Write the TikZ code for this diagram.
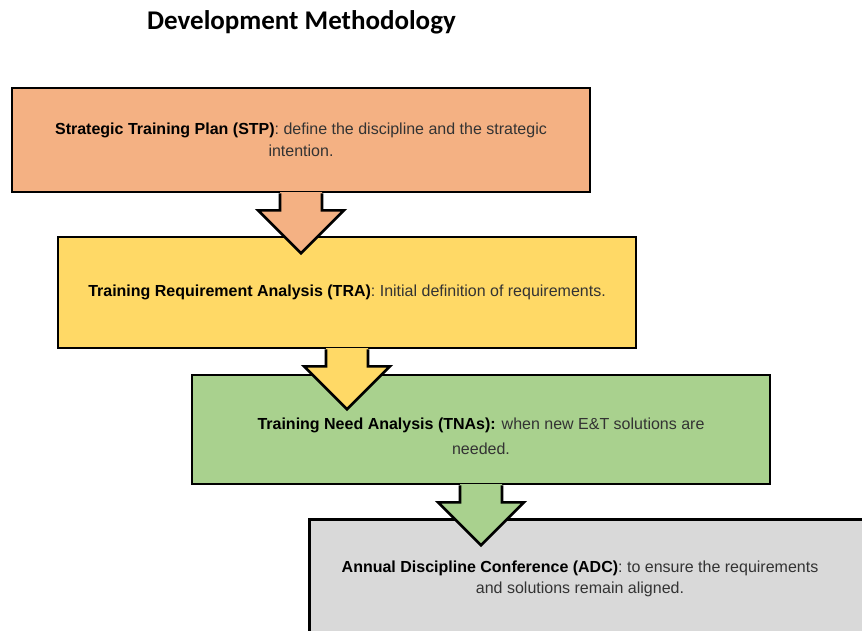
\documentclass[tikz,border=0pt]{standalone}
\usepackage{fontspec}
\setmainfont{Liberation Sans}
\newfontfamily\titlefont{Carlito}
\usetikzlibrary{positioning}
\usetikzlibrary{calc}

\definecolor{stpfill}{HTML}{F4B183}
\definecolor{trafill}{HTML}{FFD966}
\definecolor{tnafill}{HTML}{A9D18E}
\definecolor{adcfill}{HTML}{D9D9D9}
\definecolor{bodytext}{HTML}{333333}

% block arrow hanging below a stage box
\newcommand{\stagearrow}[2]{%
  \fill[#2] ($(#1.south)+(-21,1.3)$) -- ($(#1.south)+(-21,-17)$) -- ($(#1.south)+(-43,-17)$)
    -- ($(#1.south)+(0,-60)$) -- ($(#1.south)+(43,-17)$) -- ($(#1.south)+(21,-17)$)
    -- ($(#1.south)+(21,1.3)$) -- cycle;
  \draw[arrowline] ($(#1.south)+(-21,0)$) -- ($(#1.south)+(-21,-17)$) -- ($(#1.south)+(-43,-17)$)
    -- ($(#1.south)+(0,-60)$) -- ($(#1.south)+(43,-17)$) -- ($(#1.south)+(21,-17)$)
    -- ($(#1.south)+(21,0)$);
}

\begin{document}
\begin{tikzpicture}
    [x=1pt, y=1pt,
      every node/.style={font=\fontsize{16}{21.5}\selectfont, text=bodytext},
      stage/.style={draw, line width=2.6pt, rectangle, minimum width=578, align=center},
      arrowline/.style={line width=2.6pt, line join=miter},
     ]
    \useasboundingbox (0,0) rectangle (862,-630);
    \clip (0,0) rectangle (862,-630);

    \node (title) [anchor=base, font=\titlefont\bfseries\fontsize{27}{32}\selectfont, text=black]
      at (301.5,-29) {Development Methodology};

    \node (stp) [stage, fill=stpfill, minimum height=104] at (301,-140)
      {\textcolor{black}{\bfseries Strategic Training Plan (STP)}: define the discipline and the strategic\\intention.};
    \node (tra) [stage, fill=trafill, minimum height=111] at (347,-292.5)
      {\textcolor{black}{\bfseries Training Requirement Analysis (TRA)}: Initial definition of requirements.};
    \node (tna) [stage, fill=tnafill, minimum height=109] at (481,-429.5)
      {\rule{0pt}{25pt}\textcolor{black}{\bfseries Training Need Analysis (TNAs):} when new E\&T solutions are\\[4pt]needed.};
    \node (adc) [stage, fill=adcfill, minimum height=130, anchor=north west] at (308,-518) {};
    \node (adclabel) [align=center] at ($(adc.north west)+(272,-61)$)
      {\textcolor{black}{\bfseries Annual Discipline Conference (ADC)}: to ensure the requirements\\and solutions remain aligned.};

    \stagearrow{stp}{stpfill}
    \stagearrow{tra}{trafill}
    \stagearrow{tna}{tnafill}
\end{tikzpicture}
\end{document}
